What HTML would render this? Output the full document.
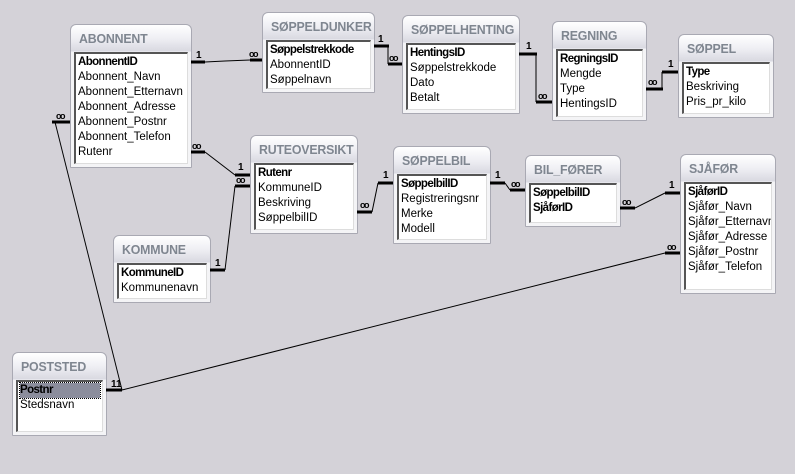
<!DOCTYPE html>
<html><head><meta charset="utf-8"><style>
body{margin:0;width:795px;height:474px;background:#d4d2d8;position:relative;overflow:hidden;font-family:"Liberation Sans",Tahoma,sans-serif;}
.t{position:absolute;border:1px solid #a9a9b3;border-radius:6px 6px 1px 1px;background:linear-gradient(#ffffff 0px,#eeeef3 14px,#d9d9e1 26px,#f4f4f6 27px,#f4f4f6 100%);box-sizing:border-box;}
.t .h{position:absolute;left:8px;top:6px;font-size:13px;font-weight:bold;color:#7f8690;letter-spacing:-0.2px;white-space:nowrap;transform:scaleX(0.95);transform-origin:left}
.t .b{position:absolute;left:3px;right:3px;top:27px;bottom:3px;background:#fff;border-top:2px solid #555;border-left:2px solid #555;border-right:1px solid #ddd;border-bottom:1px solid #ddd;font-size:11.5px;line-height:15px;padding:1px 2px;color:#000;overflow:hidden;white-space:nowrap}
.k{font-weight:bold;letter-spacing:-0.6px}
.sel{background:#8b8d9c;outline:1px dotted #000;}
svg{position:absolute;left:0;top:0}
svg text{font-family:"Liberation Sans",sans-serif;font-size:10px;font-weight:bold}
svg text.m{font-size:9px;letter-spacing:-1.5px}
</style></head><body>

<div class="t" style="left:70px;top:24px;width:122px;height:144px"><div class="h">ABONNENT</div><div class="b"><div class="k">AbonnentID</div><div>Abonnent_Navn</div><div>Abonnent_Etternavn</div><div>Abonnent_Adresse</div><div>Abonnent_Postnr</div><div>Abonnent_Telefon</div><div>Rutenr</div></div></div>

<div class="t" style="left:262px;top:12px;width:113px;height:81px"><div class="h">SØPPELDUNKER</div><div class="b"><div class="k">Søppelstrekkode</div><div>AbonnentID</div><div>Søppelnavn</div></div></div>

<div class="t" style="left:402px;top:15px;width:118px;height:99px"><div class="h">SØPPELHENTING</div><div class="b"><div class="k">HentingsID</div><div>Søppelstrekkode</div><div>Dato</div><div>Betalt</div></div></div>

<div class="t" style="left:552px;top:21px;width:95px;height:100px"><div class="h">REGNING</div><div class="b"><div class="k">RegningsID</div><div>Mengde</div><div>Type</div><div>HentingsID</div></div></div>

<div class="t" style="left:678px;top:34px;width:96px;height:84px"><div class="h">SØPPEL</div><div class="b"><div class="k">Type</div><div>Beskriving</div><div>Pris_pr_kilo</div></div></div>

<div class="t" style="left:250px;top:135px;width:108px;height:99px"><div class="h">RUTEOVERSIKT</div><div class="b"><div class="k">Rutenr</div><div>KommuneID</div><div>Beskriving</div><div>SøppelbilID</div></div></div>

<div class="t" style="left:393px;top:146px;width:98px;height:98px"><div class="h">SØPPELBIL</div><div class="b"><div class="k">SøppelbilID</div><div>Registreringsnr</div><div>Merke</div><div>Modell</div></div></div>

<div class="t" style="left:525px;top:155px;width:96px;height:72px"><div class="h">BIL_FØRER</div><div class="b"><div class="k">SøppelbilID</div><div class="k">SjåførID</div></div></div>

<div class="t" style="left:680px;top:154px;width:96px;height:140px"><div class="h">SJÅFØR</div><div class="b"><div class="k">SjåførID</div><div>Sjåfør_Navn</div><div>Sjåfør_Etternavn</div><div>Sjåfør_Adresse</div><div>Sjåfør_Postnr</div><div>Sjåfør_Telefon</div></div></div>

<div class="t" style="left:113px;top:235px;width:98px;height:68px"><div class="h">KOMMUNE</div><div class="b"><div class="k">KommuneID</div><div>Kommunenavn</div></div></div>

<div class="t" style="left:12px;top:352px;width:95px;height:84px"><div class="h">POSTSTED</div><div class="b"><div class="k sel">Postnr</div><div>Stedsnavn</div></div></div>

<svg width="795" height="474">
<g stroke="#000" fill="none" stroke-width="1">
<polyline points="205,62 225,61 250,60"/>
<polyline points="388,46 388,64"/>
<polyline points="536,54 536,102"/>
<polyline points="662,89 662,72"/>
<polyline points="205,152 235,175"/>
<polyline points="225,270 235,186"/>
<polyline points="372,212 378,183"/>
<polyline points="505,183 510,190"/>
<polyline points="635,208 665,193"/>
<polyline points="122,390 665,253"/>
<polyline points="55,122 122,390"/>
</g>
<g stroke="#000" stroke-width="3">
<line x1="191" y1="62" x2="205" y2="62"/><line x1="250" y1="60" x2="262" y2="60"/>
<line x1="374" y1="46" x2="389" y2="46"/><line x1="388" y1="64" x2="402" y2="64"/>
<line x1="519" y1="54" x2="537" y2="54"/><line x1="536" y1="102" x2="552" y2="102"/>
<line x1="646" y1="89" x2="663" y2="89"/><line x1="662" y1="72" x2="678" y2="72"/>
<line x1="191" y1="152" x2="205" y2="152"/><line x1="235" y1="175" x2="250" y2="175"/>
<line x1="210" y1="270" x2="225" y2="270"/><line x1="235" y1="186" x2="250" y2="186"/>
<line x1="357" y1="212" x2="372" y2="212"/><line x1="378" y1="183" x2="393" y2="183"/>
<line x1="490" y1="183" x2="505" y2="183"/><line x1="510" y1="190" x2="525" y2="190"/>
<line x1="620" y1="208" x2="635" y2="208"/><line x1="665" y1="193" x2="680" y2="193"/>
<line x1="106" y1="390" x2="122" y2="390"/><line x1="665" y1="253" x2="680" y2="253"/>
<line x1="52" y1="122" x2="70" y2="122"/>
</g>
<g fill="#000">
<text x="196" y="58">1</text><text class="m" x="249" y="57">oo</text>
<text x="378" y="42">1</text><text class="m" x="389" y="61">oo</text>
<text x="526" y="49">1</text><text class="m" x="538" y="99">oo</text>
<text class="m" x="648" y="85">oo</text><text x="668" y="67">1</text>
<text class="m" x="192" y="149">oo</text><text x="238" y="170">1</text>
<text class="m" x="236" y="183">oo</text><text x="215" y="266">1</text>
<text class="m" x="360" y="208">oo</text><text x="383" y="178">1</text>
<text x="495" y="178">1</text><text class="m" x="511" y="187">oo</text>
<text class="m" x="622" y="205">oo</text><text x="669" y="188">1</text>
<text class="m" x="667" y="250">oo</text><text x="111" y="387">11</text>
<text class="m" x="56" y="119">oo</text>
</g>
</svg>
</body></html>
